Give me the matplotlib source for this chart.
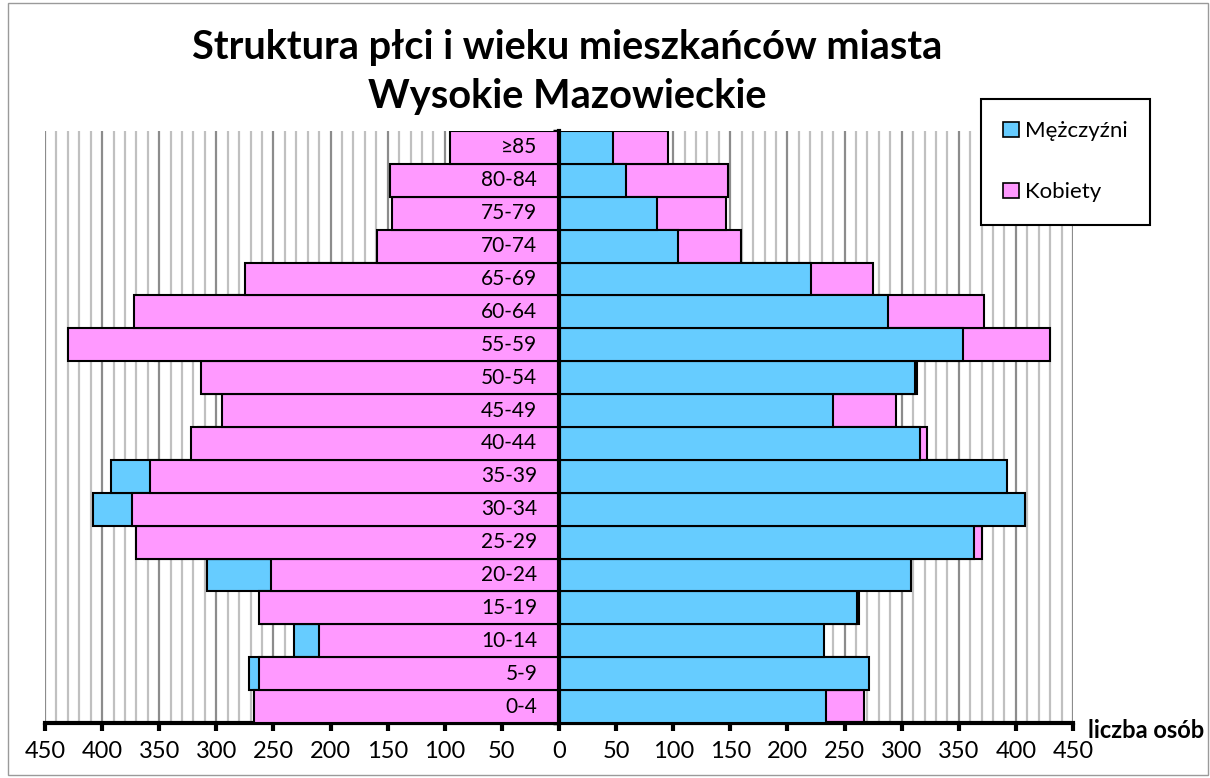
import numpy as np
import matplotlib.pyplot as plt
from matplotlib.ticker import MultipleLocator, FuncFormatter
from matplotlib.patches import Rectangle

# age groups, from youngest (bottom) to oldest (top)
ages = ['0-4', '5-9', '10-14', '15-19', '20-24', '25-29', '30-34', '35-39', '40-44',
        '45-49', '50-54', '55-59', '60-64', '65-69', '70-74', '75-79', '80-84', '≥85']
men = [234, 271, 232, 261, 308, 363, 408, 392, 316, 240, 312, 354, 288, 221, 104, 86, 59, 47]
women = [267, 263, 210, 263, 252, 370, 374, 358, 322, 295, 313, 430, 372, 275, 159, 146, 148, 95]

BLUE = '#66ccff'
PINK = '#ff99ff'
FONT = ['Lato', 'DejaVu Sans']

plt.rcParams['font.family'] = FONT

fig = plt.figure(figsize=(12.1, 7.78), dpi=100)
ax = fig.add_axes([45 / 1210, 55 / 778, 1028 / 1210, 592 / 778])

y = np.arange(len(ages))
m = np.array(men)
w = np.array(women)

# left side: women in front, right side: men in front
ax.barh(y, -m, height=1, color=BLUE, edgecolor='black', linewidth=1.5, zorder=2)
ax.barh(y, -w, height=1, color=PINK, edgecolor='black', linewidth=1.5, zorder=3)
ax.barh(y, w, height=1, color=PINK, edgecolor='black', linewidth=1.5, zorder=2)
ax.barh(y, m, height=1, color=BLUE, edgecolor='black', linewidth=1.5, zorder=3)

for i, lab in enumerate(ages):
    ax.text(-19, i, lab, ha='right', va='center', fontsize=15, zorder=5)

ax.set_xlim(-450, 450)
ax.set_ylim(-0.5, len(ages) - 0.5)

ax.xaxis.set_major_locator(MultipleLocator(50))
ax.xaxis.set_minor_locator(MultipleLocator(10))
ax.xaxis.set_major_formatter(FuncFormatter(lambda v, p: f'{abs(int(round(v)))}'))
ax.grid(which='minor', axis='x', color='#c0c0c0', linewidth=1.6)
ax.grid(which='major', axis='x', color='#8c8c8c', linewidth=1.6)
ax.set_axisbelow(True)

ax.tick_params(axis='x', which='major', direction='out', length=6, width=3, labelsize=17, pad=7)
ax.tick_params(axis='x', which='minor', length=0)

ax.spines['top'].set_visible(False)
ax.spines['right'].set_visible(False)
ax.spines['bottom'].set_linewidth(3)
ax.spines['left'].set_position(('data', 0))
ax.spines['left'].set_linewidth(3)
ax.spines['left'].set_zorder(6)
ax.set_yticks(np.arange(len(ages) + 1) - 0.5)
ax.set_yticklabels([])
ax.tick_params(axis='y', direction='out', length=4, width=2.5)

ax.text(1.015, -0.013, 'liczba osób', transform=ax.transAxes, fontsize=17,
        fontweight='bold', ha='left', va='center')

fig.text(0.469, 0.908, 'Struktura płci i wieku mieszkańców miasta\nWysokie Mazowieckie',
         ha='center', va='center', fontsize=28.6, fontweight='bold', linespacing=1.4)

leg = fig.legend(handles=[Rectangle((0, 0), 1, 1, facecolor=BLUE, edgecolor='black', lw=1.2),
                          Rectangle((0, 0), 1, 1, facecolor=PINK, edgecolor='black', lw=1.2)],
                 labels=['Mężczyźni', 'Kobiety'], loc='upper left',
                 bbox_to_anchor=(981 / 1210, 1 - 99 / 778), borderaxespad=0, fontsize=16,
                 handlelength=0.7, handleheight=0.7, handletextpad=0.3,
                 labelspacing=1.85, borderpad=1.0, fancybox=False, framealpha=1,
                 edgecolor='black')
leg.get_frame().set_linewidth(1.5)

fig.patches.append(Rectangle((8 / 1210, 3 / 778), 1200 / 1210, 772 / 778,
                             transform=fig.transFigure, fill=False,
                             edgecolor='#9a9a9a', linewidth=1))

fig.savefig('out.png', dpi=100)
